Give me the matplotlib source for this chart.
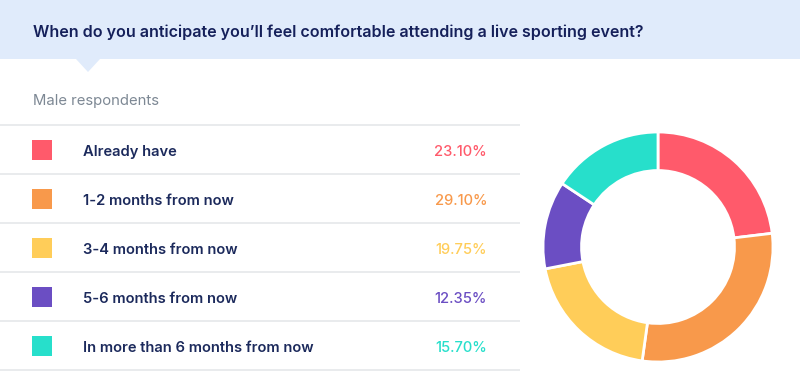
import matplotlib.pyplot as plt
from matplotlib.patches import Rectangle, Polygon

title = "When do you anticipate you\u2019ll feel comfortable attending a live sporting event?"
subtitle = "Male respondents"
categories = ["Already have", "1-2 months from now", "3-4 months from now",
              "5-6 months from now", "In more than 6 months from now"]
shares = [23.10, 29.10, 19.75, 12.35, 15.70]
colors = ["#ff5a6b", "#f8994b", "#ffcd59", "#6b4ec3", "#27dfcb"]

plt.rcParams['font.family'] = ['Inter', 'DejaVu Sans']

W, H = 800, 387
fig = plt.figure(figsize=(W / 100, H / 100), dpi=100)

# full-figure axes in pixel coordinates (y down)
ax = fig.add_axes([0, 0, 1, 1])
ax.set_xlim(0, W)
ax.set_ylim(H, 0)
ax.axis('off')

# header band with pointer
ax.add_patch(Rectangle((0, 0), W, 59, facecolor="#e0ebfb", edgecolor="none"))
ax.add_patch(Polygon([(76, 59), (100, 59), (88, 72)], closed=True,
                     facecolor="#e0ebfb", edgecolor="none"))
ax.text(33, 31, title, fontsize=11.55, fontweight='semibold', color="#15205a",
        va='center_baseline', ha='left')

ax.text(33, 99, subtitle, fontsize=10.7, color="#7d8894",
        va='center_baseline', ha='left')

# table rows
row_top = 125
row_h = 49
for i in range(len(categories) + 1):
    y = row_top + i * row_h
    ax.plot([0, 520], [y, y], color="#e5e7ea", lw=1.2, solid_capstyle='butt')

for i, (cat, val, col) in enumerate(zip(categories, shares, colors)):
    yc = row_top + i * row_h + row_h / 2
    ax.add_patch(Rectangle((32, yc - 10), 20, 20, facecolor=col, edgecolor="none"))
    ax.text(83, yc + 1, cat, fontsize=10.6, fontweight='semibold', color="#1c2a5c",
            va='center_baseline', ha='left')
    ax.text(487, yc + 1, f"{val:.2f}%", fontsize=10.6, fontweight='medium',
            color=col, va='center_baseline', ha='right')

# donut
cx, cy, r = 658, 247, 115
pax = fig.add_axes([(cx - r) / W, (H - cy - r) / H, 2 * r / W, 2 * r / H])
pax.pie(shares, colors=colors, startangle=90, counterclock=False, radius=1,
        wedgeprops=dict(width=0.335, edgecolor='white', linewidth=2))
pax.set_xlim(-1, 1)
pax.set_ylim(-1, 1)
pax.set_aspect('equal')
pax.axis('off')

fig.savefig("out.png", dpi=100)
